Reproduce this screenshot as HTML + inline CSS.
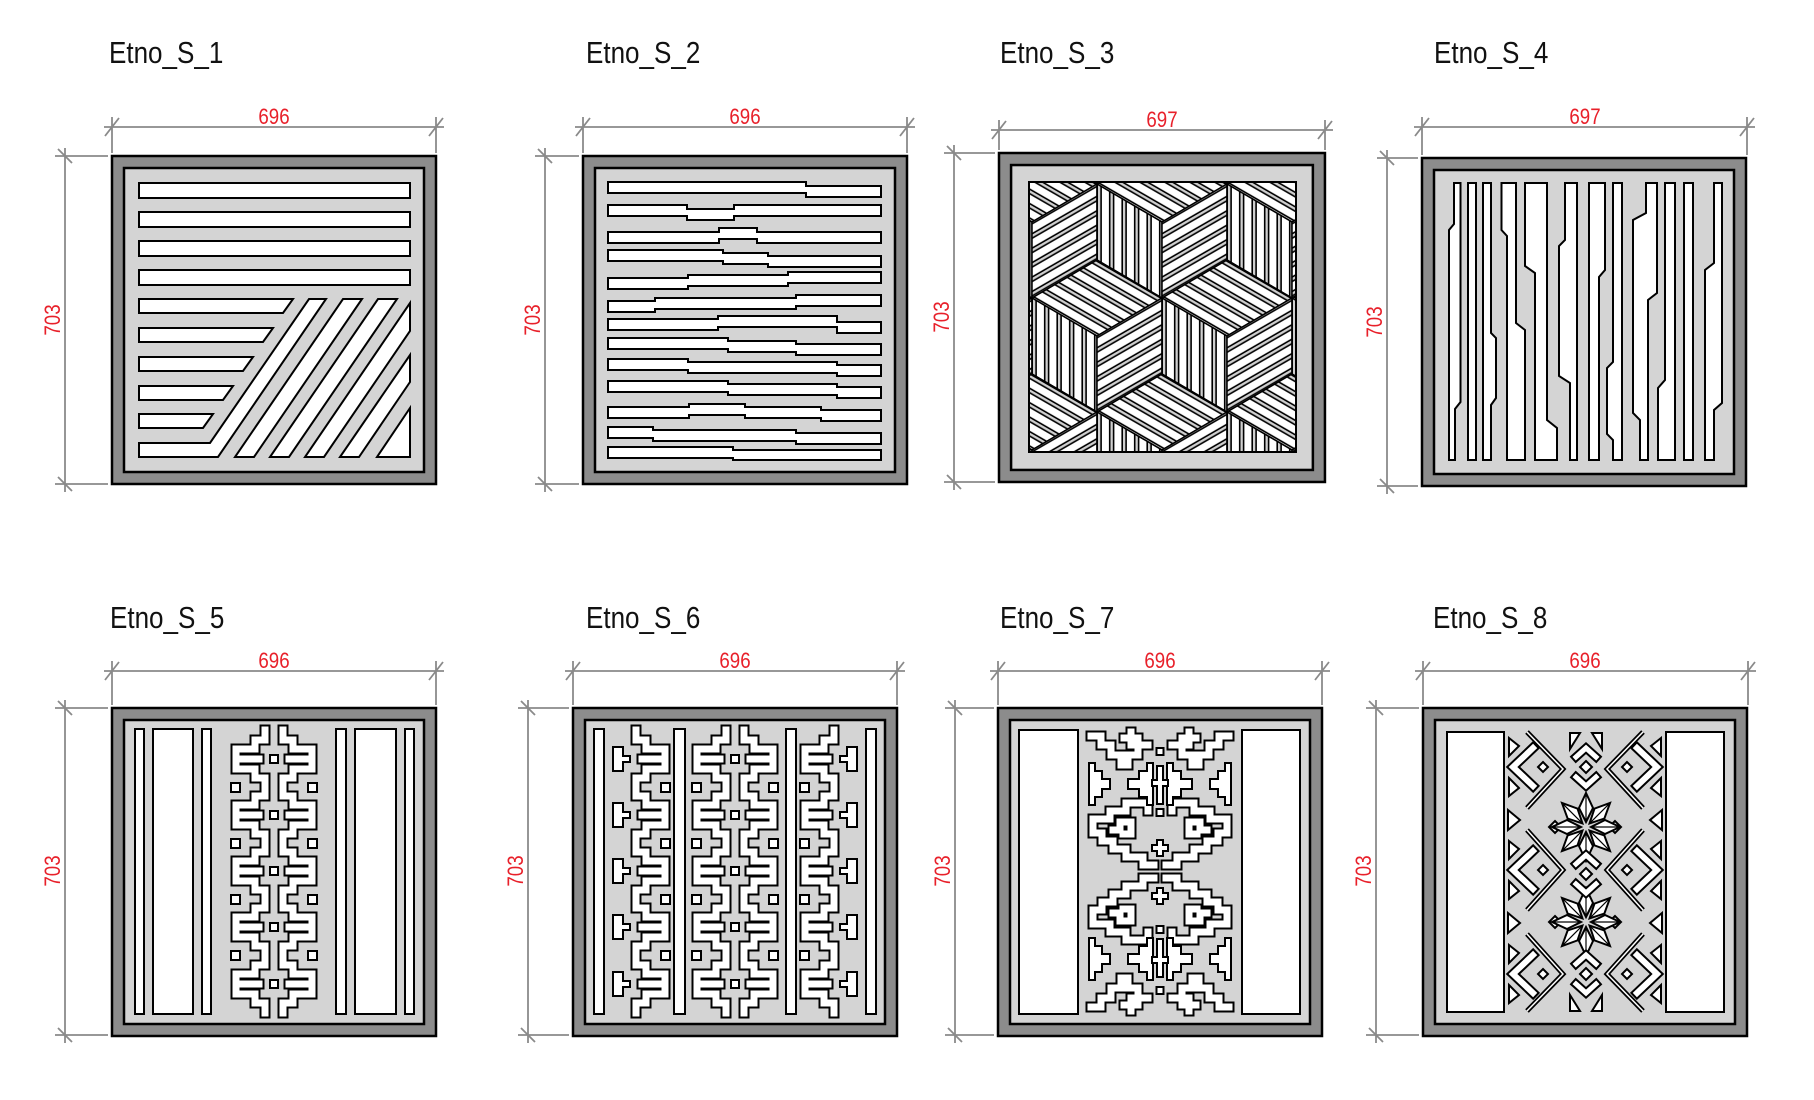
<!DOCTYPE html>
<html><head><meta charset="utf-8"><style>
html,body{margin:0;padding:0;background:#fff;width:1814px;height:1100px;overflow:hidden}
svg{display:block}
.c{fill:#fff;stroke:#000;stroke-width:2;stroke-linejoin:miter}
.bk{fill:none;stroke:#000;stroke-width:11;stroke-linejoin:miter;stroke-linecap:square}
.bw{fill:none;stroke:#fff;stroke-width:7;stroke-linejoin:miter;stroke-linecap:square}
.lk{fill:none;stroke:#000;stroke-width:5;stroke-linejoin:miter}
.lw{fill:none;stroke:#fff;stroke-width:1.5;stroke-linejoin:miter}
.dim{stroke:#8a8a8a;stroke-width:1.8;fill:none}
.t{font-family:"Liberation Sans",Arial,sans-serif;font-size:31px;fill:#111}
.d{font-family:"Liberation Sans",Arial,sans-serif;font-size:22px;fill:#e8202a}
</style></head><body>
<svg width="1814" height="1100" viewBox="0 0 1814 1100" xmlns="http://www.w3.org/2000/svg">
<defs>
<g id="frame">
<rect x="0" y="0" width="324" height="328" fill="#8c8c8c" stroke="#000" stroke-width="2.5"/>
<rect x="12" y="12" width="300" height="304" fill="#d4d4d4" stroke="#000" stroke-width="2.5"/>
</g>
<pattern id="sv" patternUnits="userSpaceOnUse" width="12.5" height="20">
<rect width="12.5" height="20" fill="#cfcfcf"/><rect x="0.8" width="10.2" height="20" fill="#000"/><rect x="2.4" width="7" height="20" fill="#fff"/>
</pattern>
<pattern id="sa" patternUnits="userSpaceOnUse" width="20" height="12.5" patternTransform="rotate(30)">
<rect width="20" height="12.5" fill="#cfcfcf"/><rect y="0.8" width="20" height="10.2" fill="#000"/><rect y="2.4" width="20" height="7" fill="#fff"/>
</pattern>
<pattern id="sb" patternUnits="userSpaceOnUse" width="20" height="12.5" patternTransform="rotate(-30)">
<rect width="20" height="12.5" fill="#cfcfcf"/><rect y="0.8" width="20" height="10.2" fill="#000"/><rect y="2.4" width="20" height="7" fill="#fff"/>
</pattern>
<g id="cube">
<polygon points="0,0 -65,-38 0,-76 65,-38" fill="url(#sa)" stroke="#000" stroke-width="1.5"/>
<polygon points="0,0 -65,-38 -65,38 0,76" fill="url(#sv)" stroke="#000" stroke-width="1.5"/>
<polygon points="0,0 65,-38 65,38 0,76" fill="url(#sb)" stroke="#000" stroke-width="1.5"/>
</g>
<clipPath id="cp3"><rect x="30" y="29" width="267" height="270"/></clipPath>
<g id="halfband">
<path d="M153,22 V32 H143 V41 H124 V61 H143 V70 H153 V88 H143 V97 H124 V117 H143 V126 H153 V144 H143 V153 H124 V173 H143 V182 H153 V200 H143 V209 H124 V229 H143 V238 H153 V257 H143 V266 H124 V286 H143 V295 H153 V305 M124,51 H147 M124,107 H147 M124,163 H147 M124,219 H147 M124,276 H147" class="bk"/>
<path d="M153,22 V32 H143 V41 H124 V61 H143 V70 H153 V88 H143 V97 H124 V117 H143 V126 H153 V144 H143 V153 H124 V173 H143 V182 H153 V200 H143 V209 H124 V229 H143 V238 H153 V257 H143 V266 H124 V286 H143 V295 H153 V305 M124,51 H147 M124,107 H147 M124,163 H147 M124,219 H147 M124,276 H147" class="bw"/>
<rect class="c" x="119" y="75" width="9" height="9"/><rect class="c" x="119" y="131" width="9" height="9"/><rect class="c" x="119" y="187" width="9" height="9"/><rect class="c" x="119" y="243" width="9" height="9"/>
</g>
<g id="motif">
<use href="#halfband"/><use href="#halfband" transform="translate(324,0) scale(-1,1)"/>
<rect class="c" x="158" y="47" width="8" height="8"/><rect class="c" x="158" y="103" width="8" height="8"/><rect class="c" x="158" y="159" width="8" height="8"/><rect class="c" x="158" y="215" width="8" height="8"/><rect class="c" x="158" y="272" width="8" height="8"/>
</g>
<g id="side6">
<use href="#halfband" transform="translate(216,0) scale(-1,1)"/>
<polygon class="c" points="40,39 50,39 50,48 57,48 57,54 50,54 50,63 40,63"/>
<polygon class="c" points="40,95 50,95 50,104 57,104 57,110 50,110 50,119 40,119"/>
<polygon class="c" points="40,151 50,151 50,160 57,160 57,166 50,166 50,175 40,175"/>
<polygon class="c" points="40,207 50,207 50,216 57,216 57,222 50,222 50,231 40,231"/>
<polygon class="c" points="40,264 50,264 50,273 57,273 57,279 50,279 50,288 40,288"/>
</g>
<g id="q7">
<path class="bk" d="M93,28 H103 V37 H113 V47 H123 V57 H130 V47 H140 V37 H150 M126,30 H140 M133,24 V37 M150,103 V95 H128 V103 H112 V111 H95 V125 H104 V133 H115 V141 H128 V149 H145 V157 H156 M115,122 H122 V114 H133 V126 H125"/>
<path class="bw" d="M93,28 H103 V37 H113 V47 H123 V57 H130 V47 H140 V37 H150 M126,30 H140 M133,24 V37 M150,103 V95 H128 V103 H112 V111 H95 V125 H104 V133 H115 V141 H128 V149 H145 V157 H156 M115,122 H122 V114 H133 V126 H125"/>
<polygon class="c" points="91,55 97,55 97,63 104,63 104,71 112,71 112,81 104,81 104,89 97,89 97,97 91,97"/>
<polygon class="c" points="155,55 149,55 149,63 141,63 141,71 130,71 130,81 141,81 141,89 149,89 149,97 155,97"/>
</g>
<g id="side8">
<path class="lk" d="M104,24 L140,61 L104,100 M104,122 L140,162 L104,202 M104,226 L140,266 L104,303"/>
<path class="lw" d="M104,24 L140,61 L104,100 M104,122 L140,162 L104,202 M104,226 L140,266 L104,303"/>
<path class="bk" style="stroke-width:10" d="M110,40 L90,59 L110,78 M110,143 L90,162 L110,181 M110,247 L90,266 L110,285"/>
<path class="bw" style="stroke-width:6" d="M110,40 L90,59 L110,78 M110,143 L90,162 L110,181 M110,247 L90,266 L110,285"/>
<polygon class="c" points="86,30 96,38 86,48"/><polygon class="c" points="86,133 96,141 86,151"/><polygon class="c" points="86,237 96,245 86,255"/>
<polygon class="c" points="86,70 96,80 86,88"/><polygon class="c" points="86,173 96,183 86,191"/><polygon class="c" points="86,277 96,287 86,295"/>
<polygon class="c" points="120,54 125,59 120,64 115,59"/><polygon class="c" points="120,157 125,162 120,167 115,162"/><polygon class="c" points="120,261 125,266 120,271 115,266"/>
<polygon class="c" points="85,102 97,112 85,122"/><polygon class="c" points="85,205 97,215 85,225"/>
<polygon class="c" points="132,113 138,119 132,125 126,119"/><polygon class="c" points="132,208 138,214 132,220 126,214"/>
</g>
<g id="petal"><polygon class="c" points="0,-5 7,-19 0,-34 -7,-19"/><line x1="0" y1="-5" x2="0" y2="-34" stroke="#000" stroke-width="1.2"/></g>
<g id="star">
<use href="#petal"/><use href="#petal" transform="rotate(45)"/><use href="#petal" transform="rotate(90)"/><use href="#petal" transform="rotate(135)"/><use href="#petal" transform="rotate(180)"/><use href="#petal" transform="rotate(225)"/><use href="#petal" transform="rotate(270)"/><use href="#petal" transform="rotate(315)"/>
</g>
<g id="chev">
<path class="bk" style="stroke-width:9" d="M-10,-10 L0,-19 L10,-10 M-10,10 L0,19 L10,10"/>
<path class="bw" style="stroke-width:5" d="M-10,-10 L0,-19 L10,-10 M-10,10 L0,19 L10,10"/>
<polygon class="c" points="0,-6 6,0 0,6 -6,0"/>
</g>
</defs>

<text class="t" transform="translate(109,63) scale(0.84,1)">Etno_S_1</text>
<text class="t" transform="translate(586,63) scale(0.84,1)">Etno_S_2</text>
<text class="t" transform="translate(1000,63) scale(0.84,1)">Etno_S_3</text>
<text class="t" transform="translate(1434,63) scale(0.84,1)">Etno_S_4</text>
<text class="t" transform="translate(110,628) scale(0.84,1)">Etno_S_5</text>
<text class="t" transform="translate(586,628) scale(0.84,1)">Etno_S_6</text>
<text class="t" transform="translate(1000,628) scale(0.84,1)">Etno_S_7</text>
<text class="t" transform="translate(1433,628) scale(0.84,1)">Etno_S_8</text>

<g class="dim">
<path d="M104,127 H444 M112,153 V117 M436,153 V117 M105,136 L119,118 M429,136 L443,118 M55,156 H108 M55,484 H108 M65,148 V492 M58,149 L72,163 M58,477 L72,491"/>
<path d="M575,127 H915 M583,153 V117 M907,153 V117 M576,136 L590,118 M900,136 L914,118 M535,156 H579 M535,484 H579 M545,148 V492 M538,149 L552,163 M538,477 L552,491"/>
<path d="M991,130 H1333 M999,150 V120 M1325,150 V120 M992,139 L1006,121 M1318,139 L1332,121 M944,153 H995 M944,482 H995 M954,145 V490 M947,146 L961,160 M947,475 L961,489"/>
<path d="M1414,127 H1755 M1422,155 V117 M1747,155 V117 M1415,136 L1429,118 M1740,136 L1754,118 M1377,158 H1418 M1377,486 H1418 M1387,150 V494 M1380,151 L1394,165 M1380,479 L1394,493"/>
<path d="M104,671 H444 M112,705 V661 M436,705 V661 M105,680 L119,662 M429,680 L443,662 M55,708 H108 M55,1035 H108 M65,700 V1043 M58,701 L72,715 M58,1028 L72,1042"/>
<path d="M565,671 H905 M573,705 V661 M897,705 V661 M566,680 L580,662 M890,680 L904,662 M518,708 H569 M518,1035 H569 M528,700 V1043 M521,701 L535,715 M521,1028 L535,1042"/>
<path d="M990,671 H1330 M998,705 V661 M1322,705 V661 M991,680 L1005,662 M1315,680 L1329,662 M945,708 H994 M945,1035 H994 M955,700 V1043 M948,701 L962,715 M948,1028 L962,1042"/>
<path d="M1415,671 H1756 M1423,705 V661 M1748,705 V661 M1416,680 L1430,662 M1741,680 L1755,662 M1366,708 H1419 M1366,1035 H1419 M1376,700 V1043 M1369,701 L1383,715 M1369,1028 L1383,1042"/>
</g>
<g class="d" text-anchor="middle">
<text transform="translate(274,124) scale(0.85,1)">696</text>
<text transform="translate(745,124) scale(0.85,1)">696</text>
<text transform="translate(1162,127) scale(0.85,1)">697</text>
<text transform="translate(1585,124) scale(0.85,1)">697</text>
<text transform="translate(274,668) scale(0.85,1)">696</text>
<text transform="translate(735,668) scale(0.85,1)">696</text>
<text transform="translate(1160,668) scale(0.85,1)">696</text>
<text transform="translate(1585,668) scale(0.85,1)">696</text>
<text transform="translate(60,320) rotate(-90) scale(0.85,1)">703</text>
<text transform="translate(540,320) rotate(-90) scale(0.85,1)">703</text>
<text transform="translate(949,317) rotate(-90) scale(0.85,1)">703</text>
<text transform="translate(1382,322) rotate(-90) scale(0.85,1)">703</text>
<text transform="translate(60,871) rotate(-90) scale(0.85,1)">703</text>
<text transform="translate(523,871) rotate(-90) scale(0.85,1)">703</text>
<text transform="translate(950,871) rotate(-90) scale(0.85,1)">703</text>
<text transform="translate(1371,871) rotate(-90) scale(0.85,1)">703</text>
</g>

<g transform="translate(112,156)">
<use href="#frame"/>
<rect class="c" x="27" y="27" width="271" height="15"/>
<rect class="c" x="27" y="56" width="271" height="15"/>
<rect class="c" x="27" y="85" width="271" height="15"/>
<rect class="c" x="27" y="114" width="271" height="15"/>
<polygon class="c" points="27,143 181,143 171,157 27,157"/>
<polygon class="c" points="27,172 161,172 151,186 27,186"/>
<polygon class="c" points="27,201 141,201 131,215 27,215"/>
<polygon class="c" points="27,230 121,230 111,244 27,244"/>
<polygon class="c" points="27,258 101,258 91,272 27,272"/>
<polygon class="c" points="27,287 98,287 197,143 214,143 106,301 27,301"/>
<polygon class="c" points="231,143 250,143 142,301 123,301"/>
<polygon class="c" points="266,143 285,143 177,301 158,301"/>
<polygon class="c" points="298,147 298,175 212,301 193,301"/>
<polygon class="c" points="298,199 298,226 247,301 228,301"/>
<polygon class="c" points="298,252 298,301 265,301"/>
</g>

<g transform="translate(583,156)">
<use href="#frame"/>
<polygon class="c" points="25,26 223,26 223,30 298,30 298,41 223,41 223,37 25,37"/>
<polygon class="c" points="25,49 104,49 104,53 151,53 151,49 298,49 298,60 151,60 151,64 104,64 104,60 25,60"/>
<polygon class="c" points="25,76 136,76 136,72 174,72 174,76 298,76 298,87 174,87 174,83 136,83 136,87 25,87"/>
<polygon class="c" points="25,94 140,94 140,97 185,97 185,100 298,100 298,111 185,111 185,108 140,108 140,105 25,105"/>
<polygon class="c" points="25,122 105,122 105,119 205,119 205,116 298,116 298,127 205,127 205,130 105,130 105,133 25,133"/>
<polygon class="c" points="25,145 72,145 72,142 213,142 213,139 298,139 298,150 213,150 213,153 72,153 72,156 25,156"/>
<polygon class="c" points="25,163 135,163 135,160 254,160 254,166 298,166 298,177 254,177 254,171 135,171 135,174 25,174"/>
<polygon class="c" points="25,182 145,182 145,185 213,185 213,188 298,188 298,199 213,199 213,196 145,196 145,193 25,193"/>
<polygon class="c" points="25,203 105,203 105,206 254,206 254,209 298,209 298,220 254,220 254,217 105,217 105,214 25,214"/>
<polygon class="c" points="25,225 145,225 145,228 254,228 254,231 298,231 298,242 254,242 254,239 145,239 145,236 25,236"/>
<polygon class="c" points="25,251 106,251 106,248 162,248 162,251 238,251 238,254 298,254 298,265 238,265 238,262 162,262 162,259 106,259 106,262 25,262"/>
<polygon class="c" points="25,271 70,271 70,274 213,274 213,277 298,277 298,288 213,288 213,285 70,285 70,282 25,282"/>
<polygon class="c" points="25,291 150,291 150,294 298,294 298,304 150,304 150,302 25,302"/>
</g>

<g transform="translate(999,153)">
<use href="#frame" transform="scale(1.006,1.003)"/>
<rect x="30" y="29" width="267" height="270" fill="#111"/>
<g clip-path="url(#cp3)">
<use href="#cube" x="33" y="69"/><use href="#cube" x="163" y="69"/><use href="#cube" x="293" y="69"/>
<use href="#cube" x="-32" y="183"/><use href="#cube" x="98" y="183"/><use href="#cube" x="228" y="183"/><use href="#cube" x="358" y="183"/>
<use href="#cube" x="33" y="297"/><use href="#cube" x="163" y="297"/><use href="#cube" x="293" y="297"/>
<use href="#cube" x="98" y="-45"/><use href="#cube" x="228" y="-45"/><use href="#cube" x="-32" y="-45"/>
</g>
<rect x="30" y="29" width="267" height="270" fill="none" stroke="#000" stroke-width="2"/>
</g>

<g transform="translate(1422,158)">
<use href="#frame"/>
<polygon class="c" points="32,25 38.5,25 38.5,244 33,251 33,302 27,302 27,72 32,66"/>
<polygon class="c" points="46,25 54,25 54,302 46,302"/>
<polygon class="c" points="61,25 69,25 69,175 74,180 74,240 69,247 69,302 61,302"/>
<polygon class="c" points="79.5,25 94,25 94,165 103,172 103,302 85,302 85,78 79.5,72"/>
<polygon class="c" points="103,25 125,25 125,262 135,270 135,302 113,302 113,115 103,108"/>
<polygon class="c" points="143,25 155,25 155,302 148,302 148,225 137,218 137,88 143,82"/>
<polygon class="c" points="167,25 183,25 183,112 177,119 177,302 167,302"/>
<polygon class="c" points="191,25 200,25 200,302 191,302 191,282 185,276 185,210 191,204"/>
<polygon class="c" points="224,25 235,25 235,135 226,142 226,302 218,302 218,262 211,255 211,62 224,55"/>
<polygon class="c" points="243,25 253,25 253,302 236,302 236,230 243,222"/>
<polygon class="c" points="262,25 271,25 271,302 262,302"/>
<polygon class="c" points="292,25 300,25 300,245 292,252 292,302 283,302 283,112 292,105"/>
</g>

<g transform="translate(112,708)">
<use href="#frame"/>
<rect class="c" x="23" y="21" width="9" height="285"/>
<rect class="c" x="41" y="21" width="40" height="285"/>
<rect class="c" x="90" y="21" width="9" height="285"/>
<rect class="c" x="224" y="21" width="10" height="285"/>
<rect class="c" x="243" y="21" width="41" height="285"/>
<rect class="c" x="293" y="21" width="9" height="285"/>
<use href="#motif"/>
</g>

<g transform="translate(573,708)">
<use href="#frame"/>
<rect class="c" x="21" y="21" width="10" height="285"/>
<rect class="c" x="101" y="21" width="11" height="285"/>
<rect class="c" x="213" y="21" width="10" height="285"/>
<rect class="c" x="293" y="21" width="10" height="285"/>
<use href="#motif"/>
<use href="#side6"/>
<use href="#side6" transform="translate(324,0) scale(-1,1)"/>
</g>

<g transform="translate(998,708)">
<use href="#frame"/>
<rect class="c" x="21" y="22" width="59" height="284"/>
<rect class="c" x="244" y="22" width="58" height="284"/>
<use href="#q7"/>
<use href="#q7" transform="translate(324,0) scale(-1,1)"/>
<use href="#q7" transform="translate(0,327) scale(1,-1)"/>
<use href="#q7" transform="translate(324,327) scale(-1,-1)"/>
<rect class="c" x="158.5" y="40" width="7" height="7"/>
<rect class="c" x="158.5" y="101" width="7" height="7"/>
<rect class="c" x="158.5" y="218" width="7" height="7"/>
<rect class="c" x="158.5" y="279" width="7" height="7"/>
<polygon class="c" points="159,58 165,58 165,72 170,72 170,78 165,78 165,96 159,96 159,78 154,78 154,72 159,72"/>
<polygon class="c" points="159,231 165,231 165,249 170,249 170,255 165,255 165,269 159,269 159,255 154,255 154,249 159,249"/>
<polygon class="c" points="159,132 165,132 165,137 170,137 170,143 165,143 165,148 159,148 159,143 154,143 154,137 159,137"/>
<polygon class="c" points="159,180 165,180 165,185 170,185 170,191 165,191 165,196 159,196 159,191 154,191 154,185 159,185"/>
</g>

<g transform="translate(1423,708)">
<use href="#frame"/>
<rect class="c" x="24" y="24" width="57" height="280"/>
<rect class="c" x="243" y="24" width="58" height="280"/>
<use href="#side8"/>
<use href="#side8" transform="translate(324,0) scale(-1,1)"/>
<use href="#star" x="163" y="119"/>
<use href="#star" x="163" y="214"/>
<use href="#chev" x="163" y="59"/>
<use href="#chev" x="163" y="166"/>
<use href="#chev" x="163" y="266"/>
<polygon class="c" points="147,25 157,25 147,41"/>
<polygon class="c" points="169,25 179,25 179,41"/>
<polygon class="c" points="147,303 157,303 147,287"/>
<polygon class="c" points="169,303 179,303 179,287"/>
</g>
</svg>
</body></html>
